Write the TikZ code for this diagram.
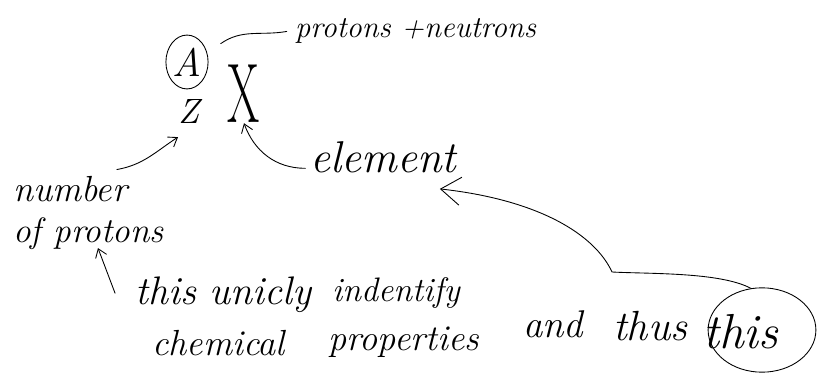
\documentclass[tikz,border=0pt]{standalone}
\usepackage{fontspec}
\usepackage{tikz}
\usetikzlibrary{arrows.meta}
\usetikzlibrary{shapes.geometric}

\newcommand{\handfont}[1]{\fontsize{#1}{#1}\selectfont\itshape}

\begin{document}
\begin{tikzpicture}[x=0.03cm, y=-0.03cm,
    every node/.style={inner sep=0pt, anchor=base west},
    hand/.style={line width=0.75pt, line cap=round, line join=round},
    arr/.style={hand, -{Straight Barb[length=7pt,width=10pt]}},
    bigarr/.style={hand, -{Straight Barb[length=17pt,width=24pt]}}]
\useasboundingbox (0,0) rectangle (817,376);

\node[draw, hand, ellipse, minimum width=36pt, minimum height=46pt, anchor=center, font=\handfont{34}] (A) at (187,62) {A};
\node[font=\handfont{30}] (Z) at (178,124) {Z};
\node[anchor=base, font=\fontsize{72}{72}\selectfont] (X) at (244,123) {\scalebox{0.55}[1]{X}};
\node[font=\handfont{26}] (pn) at (295,38) {protons +neutrons};
\node[font=\handfont{38}] (el) at (310,173) {element};
\node[font=\handfont{31}] (nb) at (13,202) {number};
\node[font=\handfont{30}] (op) at (13,243) {of protons};
\node[font=\handfont{34}] (t1) at (135,305) {this unicly};
\node[font=\handfont{29}] (t2) at (332,302) {indentify};
\node[font=\handfont{31}] (t3) at (152,355) {chemical};
\node[font=\handfont{31}] (t4) at (328,350) {properties};
\node[font=\handfont{33}] (t5) at (523,337) {and};
\node[font=\handfont{36}] (t6) at (613,340) {thus};
\node[font=\handfont{42}] (t7) at (703,348) {this};
\node[draw, hand, ellipse, minimum width=92pt, minimum height=72pt, anchor=center] (loop) at (762,330) {};

\draw[hand] ([xshift=12pt,yshift=6pt]A.30) to[out=35, in=190] ([xshift=-7pt]pn.west);
\draw[arr] ([xshift=-9pt,yshift=6pt]nb.north east) to[out=10, in=213] ([yshift=-11pt]Z.south west);
\draw[arr] ([xshift=-4pt,yshift=4pt]el.base west) to[out=180, in=-70] (X.south);
\draw[arr] ([xshift=-17pt,yshift=10pt]t1.base west) -- ([xshift=8pt,yshift=2pt]op.south);
\draw[bigarr] (loop.105) .. controls (720,272) and (650,274) .. (612,272)
    .. controls (595,235) and (540,200) .. ([xshift=-14pt,yshift=-13pt]el.south east);
\end{tikzpicture}
\end{document}
